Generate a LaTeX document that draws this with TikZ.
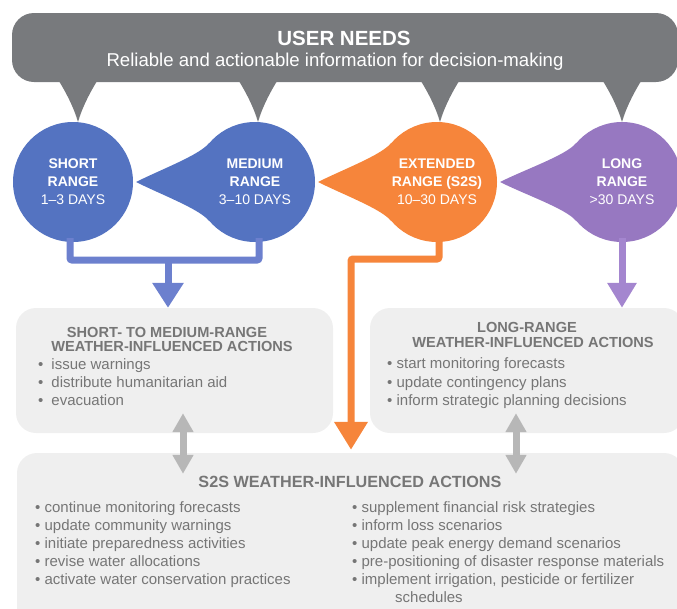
\documentclass[tikz,border=0pt]{standalone}
\usepackage{fontspec}
\setmainfont{Liberation Sans}
\usetikzlibrary{arrows.meta,calc,backgrounds}

\definecolor{needsgray}{RGB}{120,122,125}
\definecolor{shortblue}{RGB}{84,115,193}
\definecolor{barblue}{RGB}{108,128,206}
\definecolor{extorange}{RGB}{246,133,59}
\definecolor{longpurple}{RGB}{151,120,193}
\definecolor{barpurple}{RGB}{164,134,207}
\definecolor{actfill}{RGB}{239,239,239}
\definecolor{acttext}{RGB}{118,118,118}
\definecolor{dblgray}{RGB}{183,183,183}

\begin{document}
\begin{tikzpicture}[x=1pt,y=1pt,
    needsbox/.style={
        rectangle,rounded corners=22pt,fill=needsgray,
        minimum width=666pt,minimum height=69pt,inner sep=0pt
    },
    bubble/.style={
        circle,minimum size=120pt,inner sep=0pt,
        text=white,align=center,font=\fontsize{14}{18}\selectfont
    },
    actbox/.style={rectangle,rounded corners=20pt,fill=actfill,inner sep=0pt},
    acthead/.style={text=acttext,inner sep=0pt,font=\fontsize{14.6}{15}\selectfont\bfseries},
    actitem/.style={text=acttext,inner sep=0pt,anchor=base west,font=\fontsize{15}{18}\selectfont},
    bar/.style={line width=7pt,rounded corners=2pt},
    dblarrow/.style={line width=7pt,draw=dblgray,
        {Triangle[width=20pt,length=19pt]}-{Triangle[width=20pt,length=19pt]}}
    ]
    \useasboundingbox (0,0) rectangle (677,-608);

    % user needs
    \node[needsbox] (needs) at (345,-47.5) {};
    \node[text=white,font=\fontsize{20.5}{22}\selectfont\bfseries] (needstitle) at (344,-38) {USER NEEDS};
    \node[text=white,anchor=base,font=\fontsize{18.6}{20}\selectfont] (needssub) at (335,-66)
        {Reliable and actionable information for decision-making};
    \foreach \px in {78,258,440,622}
        \fill[needsgray] (\px-21,-78) .. controls (\px-12,-92) and (\px-4,-108) .. (\px,-122)
            .. controls (\px+4,-108) and (\px+12,-92) .. (\px+21,-78) -- cycle;

    % ranges
    \node[bubble,fill=shortblue] (short) at (73,-182) {\textbf{SHORT}\\\textbf{RANGE}\\1--3 DAYS};
    \node[bubble,fill=shortblue] (medium) at (255,-182) {\textbf{MEDIUM}\\\textbf{RANGE}\\3--10 DAYS};
    \node[bubble,fill=extorange] (ext) at (437,-182) {\textbf{EXTENDED}\\\textbf{RANGE (S2S)}\\10--30 DAYS};
    \node[bubble,fill=longpurple] (long) at (622,-182) {\textbf{LONG}\\\textbf{RANGE}\\>30 DAYS};

    \coordinate (mtip) at ($(medium.center)+(-119,0)$);
    \coordinate (etip) at ($(ext.center)+(-119,0)$);
    \coordinate (ltip) at ($(long.center)+(-122,0)$);
    \begin{scope}[on background layer]
        \fill[shortblue] (mtip) .. controls +(26,13) and +(-10,-12) .. (medium.140) -- (medium.center)
            -- (medium.220) .. controls +(-10,12) and +(26,-13) .. (mtip);
        \fill[extorange] (etip) .. controls +(26,13) and +(-10,-12) .. (ext.140) -- (ext.center)
            -- (ext.220) .. controls +(-10,12) and +(26,-13) .. (etip);
        \fill[longpurple] (ltip) .. controls +(26,13) and +(-10,-12) .. (long.140) -- (long.center)
            -- (long.220) .. controls +(-10,12) and +(26,-13) .. (ltip);
    \end{scope}

    % actions
    \node[actbox,minimum width=317pt,minimum height=125pt] (smact) at (174.5,-370.5) {};
    \node[actbox,minimum width=314pt,minimum height=125pt] (lract) at (527,-370.5) {};
    \node[actbox,minimum width=667pt,minimum height=187pt] (s2sact) at (350.5,-546.5) {};

    \node[acthead] (smhead1) at (167,-332) {SHORT- TO MEDIUM-RANGE};
    \node[acthead] (smhead2) at (172,-346) {WEATHER-INFLUENCED ACTIONS};
    \node[actitem] (smitem1) at (38,-369) {•\hspace{8pt}issue warnings};
    \node[actitem] (smitem2) at (38,-387) {•\hspace{8pt}distribute humanitarian aid};
    \node[actitem] (smitem3) at (38,-405) {•\hspace{8pt}evacuation};

    \node[acthead] (lrhead1) at (527,-327) {LONG-RANGE};
    \node[acthead] (lrhead2) at (533,-342) {WEATHER-INFLUENCED ACTIONS};
    \node[actitem] (lritem1) at (387,-368) {• start monitoring forecasts};
    \node[actitem] (lritem2) at (387,-387) {• update contingency plans};
    \node[actitem] (lritem3) at (387,-405) {• inform strategic planning decisions};

    \node[acthead,font=\fontsize{16.2}{17}\selectfont\bfseries] (s2shead) at (350,-482)
        {S2S WEATHER-INFLUENCED ACTIONS};
    \node[actitem] (s2sitem1) at (35,-512) {• continue monitoring forecasts};
    \node[actitem] (s2sitem2) at (35,-530) {• update community warnings};
    \node[actitem] (s2sitem3) at (35,-548) {• initiate preparedness activities};
    \node[actitem] (s2sitem4) at (35,-566) {• revise water allocations};
    \node[actitem] (s2sitem5) at (35,-584) {• activate water conservation practices};
    \node[actitem] (s2sitem6) at (352,-512) {• supplement financial risk strategies};
    \node[actitem] (s2sitem7) at (352,-530) {• inform loss scenarios};
    \node[actitem] (s2sitem8) at (352,-548) {• update peak energy demand scenarios};
    \node[actitem] (s2sitem9) at (352,-566) {• pre-positioning of disaster response materials};
    \node[actitem] (s2sitem10) at (352,-584) {• implement irrigation, pesticide or fertilizer};
    \node[actitem] (s2sitem11) at (395,-602) {schedules};

    % connectors
    \coordinate (bjoin) at (168,-260);
    \draw[bar,draw=barblue] ([xshift=-3pt,yshift=4pt]short.south) |- (bjoin)
        -| ([xshift=4pt,yshift=4pt]medium.south);
    \draw[bar,draw=barblue,-{Triangle[width=30pt,length=25pt]}] (bjoin) -- (bjoin |- smact.north);

    \coordinate (ocorner) at (351,-259);
    \draw[bar,draw=extorange,-{Triangle[width=32pt,length=28pt]}] ([xshift=2pt,yshift=4pt]ext.south)
        |- (ocorner) -- ($(ocorner |- s2sact.north)+(0,3)$);

    \draw[bar,draw=barpurple,-{Triangle[width=28pt,length=25pt]}] ([yshift=4pt]long.south)
        -- (long.south |- lract.north);

    \draw[dblarrow] ($(smact.south)+(8.5,20)$) -- ($(smact.south |- s2sact.north)+(8.5,-21)$);
    \draw[dblarrow] ($(lract.south)+(-11,20)$) -- ($(lract.south |- s2sact.north)+(-11,-21)$);
\end{tikzpicture}
\end{document}
